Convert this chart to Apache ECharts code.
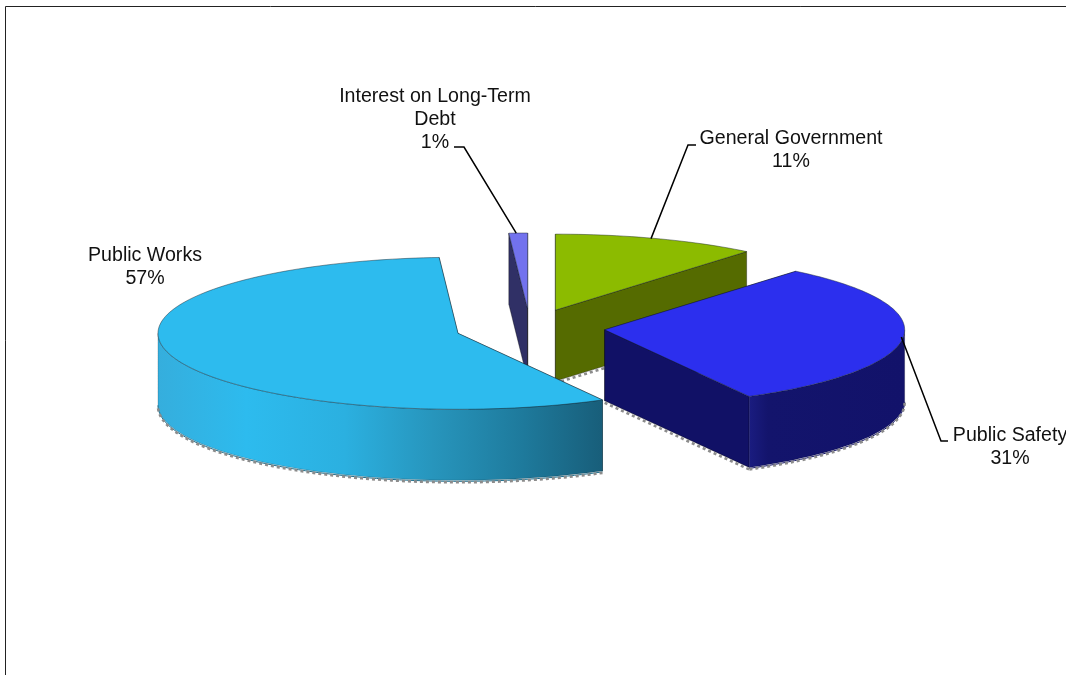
<!DOCTYPE html>
<html>
<head>
<meta charset="utf-8">
<title>Expenses by function</title>
<style>
  html, body { margin: 0; padding: 0; background: #fff; }
  #chart { width: 1066px; height: 675px; }
</style>
<script src="https://cdn.jsdelivr.net/npm/echarts@6/dist/echarts.min.js"></script>
</head>
<body>
<div id="chart"></div>
<script>
// Slices in clockwise order, starting from twelve o'clock.
const categories = ['General Government', 'Public Safety', 'Public Works', 'Interest on Long-Term\nDebt'];
const shares = [11, 31, 57, 1];

// Tilted-disc geometry.
const disc = { cx: 530, cy: 328, rx: 300, ry: 76, depth: 71, explode: 0.25 };

// Per-slice colours: top face, flat cut wall, outer wall gradient.
const topColors = ['#8CBB00', '#2C2FEE', '#2DBBEE', '#7272EE'];
const wallColors = ['#556B00', '#111166', '#1D6F8E', '#303066'];
const rimStops = [
  [[0, '#556B00'], [1, '#556B00']],
  [[0, '#1A1C80'], [0.12, '#13146C'], [1, '#12126A']],
  [[0, '#35AEDD'], [0.2, '#2DBBEE'], [0.42, '#2BB0E0'], [0.62, '#2795BC'], [0.82, '#1E7A9C'], [1, '#185E7A']],
  [[0, '#303066'], [1, '#303066']]
];

// Label placement: text centre and the elbow of its leader line.
const labelCenters = [[791, 150.5], [1010, 447.5], [145, 267], [435, 120]];
const leaderElbows = [
  [[688, 145], [696, 145]],
  [[941, 441], [948, 441]],
  null,
  [[464, 147], [454, 147]]
];
const leaderRimShift = [-6, -2, 0, -2];

const total = shares.reduce((a, b) => a + b, 0);
const rad = d => d * Math.PI / 180;

function rimPoint(c, t, dy) {
  return [c[0] + Math.sin(rad(t)) * disc.rx, c[1] - Math.cos(rad(t)) * disc.ry + (dy || 0)];
}

function arcPoints(c, a, b, dy) {
  const pts = [];
  const n = Math.max(2, Math.ceil(Math.abs(b - a) / 1.5));
  for (let i = 0; i <= n; i++) pts.push(rimPoint(c, a + (b - a) * i / n, dy));
  return pts;
}

function renderSlice(params, api) {
  const i = params.dataIndex;
  const value = api.value(0);
  const before = shares.slice(0, i).reduce((a, b) => a + b, 0);
  const start = before / total * 360;
  const end = start + value / total * 360;
  const mid = (start + end) / 2;

  // Exploded slice centre, pushed out along its bisector.
  const c = [
    disc.cx + Math.sin(rad(mid)) * disc.rx * disc.explode,
    disc.cy - Math.cos(rad(mid)) * disc.ry * disc.explode
  ];
  const z = Math.round(c[1]) * 10;
  const d = disc.depth;
  const children = [];
  const edge = 'rgba(25,35,45,0.45)';
  const speckle = { stroke: '#8C8C8C', lineWidth: 2.6, lineDash: [3, 3] };

  const cutWall = t => {
    const p = rimPoint(c, t);
    children.push({
      type: 'polygon', z2: z,
      shape: { points: [c, p, [p[0], p[1] + d], [c[0], c[1] + d]] },
      style: { fill: wallColors[i], stroke: 'rgba(0,0,0,0.35)', lineWidth: 1 }
    });
  };
  cutWall(start);
  cutWall(end);

  // Front-facing part of the curved wall.
  const a = Math.max(start, 90);
  const b = Math.min(end, 270);
  if (b > a) {
    const up = arcPoints(c, a, b, 0);
    const down = arcPoints(c, b, a, d);
    const xs = up.map(p => p[0]);
    children.push({
      type: 'polygon', z2: z + 1,
      shape: { points: up.concat(down) },
      style: {
        fill: {
          type: 'linear', x: Math.min(...xs), y: 0, x2: Math.max(...xs), y2: 0, global: true,
          colorStops: rimStops[i].map(s => ({ offset: s[0], color: s[1] }))
        },
        stroke: 'rgba(0,0,0,0.18)', lineWidth: 1
      }
    });
    // Speckled lower rim.
    const rim = arcPoints(c, a, b, d + 1);
    children.push({
      type: 'polyline', z2: z + 2, shape: { points: rim },
      style: { fill: null, stroke: wallColors[i], lineWidth: 1 }
    });
    children.push({
      type: 'polyline', z2: z + 2, shape: { points: rim.map(p => [p[0], p[1] + 1]) },
      style: Object.assign({ fill: null }, speckle)
    });
  }

  // Speckled lower edge of the visible cut wall.
  if (i < 2) {
    const p = rimPoint(c, end, d + 2);
    children.push({
      type: 'line', z2: z + 2,
      shape: { x1: c[0], y1: c[1] + d + 2, x2: p[0], y2: p[1] },
      style: speckle
    });
  }

  // Top face.
  children.push({
    type: 'polygon', z2: z + 3,
    shape: { points: [c].concat(arcPoints(c, start, end, 0)) },
    style: { fill: topColors[i], stroke: edge, lineWidth: 1, lineJoin: 'round' }
  });

  // Leader line from the rim to the label.
  if (leaderElbows[i]) {
    const rimAt = rimPoint(c, mid);
    rimAt[0] += leaderRimShift[i];
    children.push({
      type: 'polyline', z2: 9000,
      shape: { points: [rimAt].concat(leaderElbows[i]) },
      style: { fill: null, stroke: '#000', lineWidth: 1.5 }
    });
  }

  // Name and rounded share.
  children.push({
    type: 'text', z2: 9001,
    style: {
      text: categories[i] + '\n' + Math.round(value / total * 100) + '%',
      x: labelCenters[i][0], y: labelCenters[i][1],
      textAlign: 'center', textVerticalAlign: 'middle',
      font: '19.6px "Liberation Sans", Arial, sans-serif',
      lineHeight: 23, fill: '#111'
    }
  });

  return { type: 'group', children };
}

const chart = echarts.init(document.getElementById('chart'), null, { renderer: 'canvas' });
chart.setOption({
  animation: false,
  backgroundColor: '#fff',
  graphic: [
    { type: 'line', silent: true, shape: { x1: 5.5, y1: 6.5, x2: 1066, y2: 6.5 }, style: { stroke: '#222', lineWidth: 1 } },
    { type: 'line', silent: true, shape: { x1: 5.5, y1: 6.5, x2: 5.5, y2: 675 }, style: { stroke: '#222', lineWidth: 1 } }
  ],
  series: [{
    type: 'custom',
    coordinateSystem: 'none',
    clip: false,
    silent: true,
    renderItem: renderSlice,
    data: shares.map((v, i) => ({ name: categories[i], value: [v] }))
  }]
});
</script>
</body>
</html>
